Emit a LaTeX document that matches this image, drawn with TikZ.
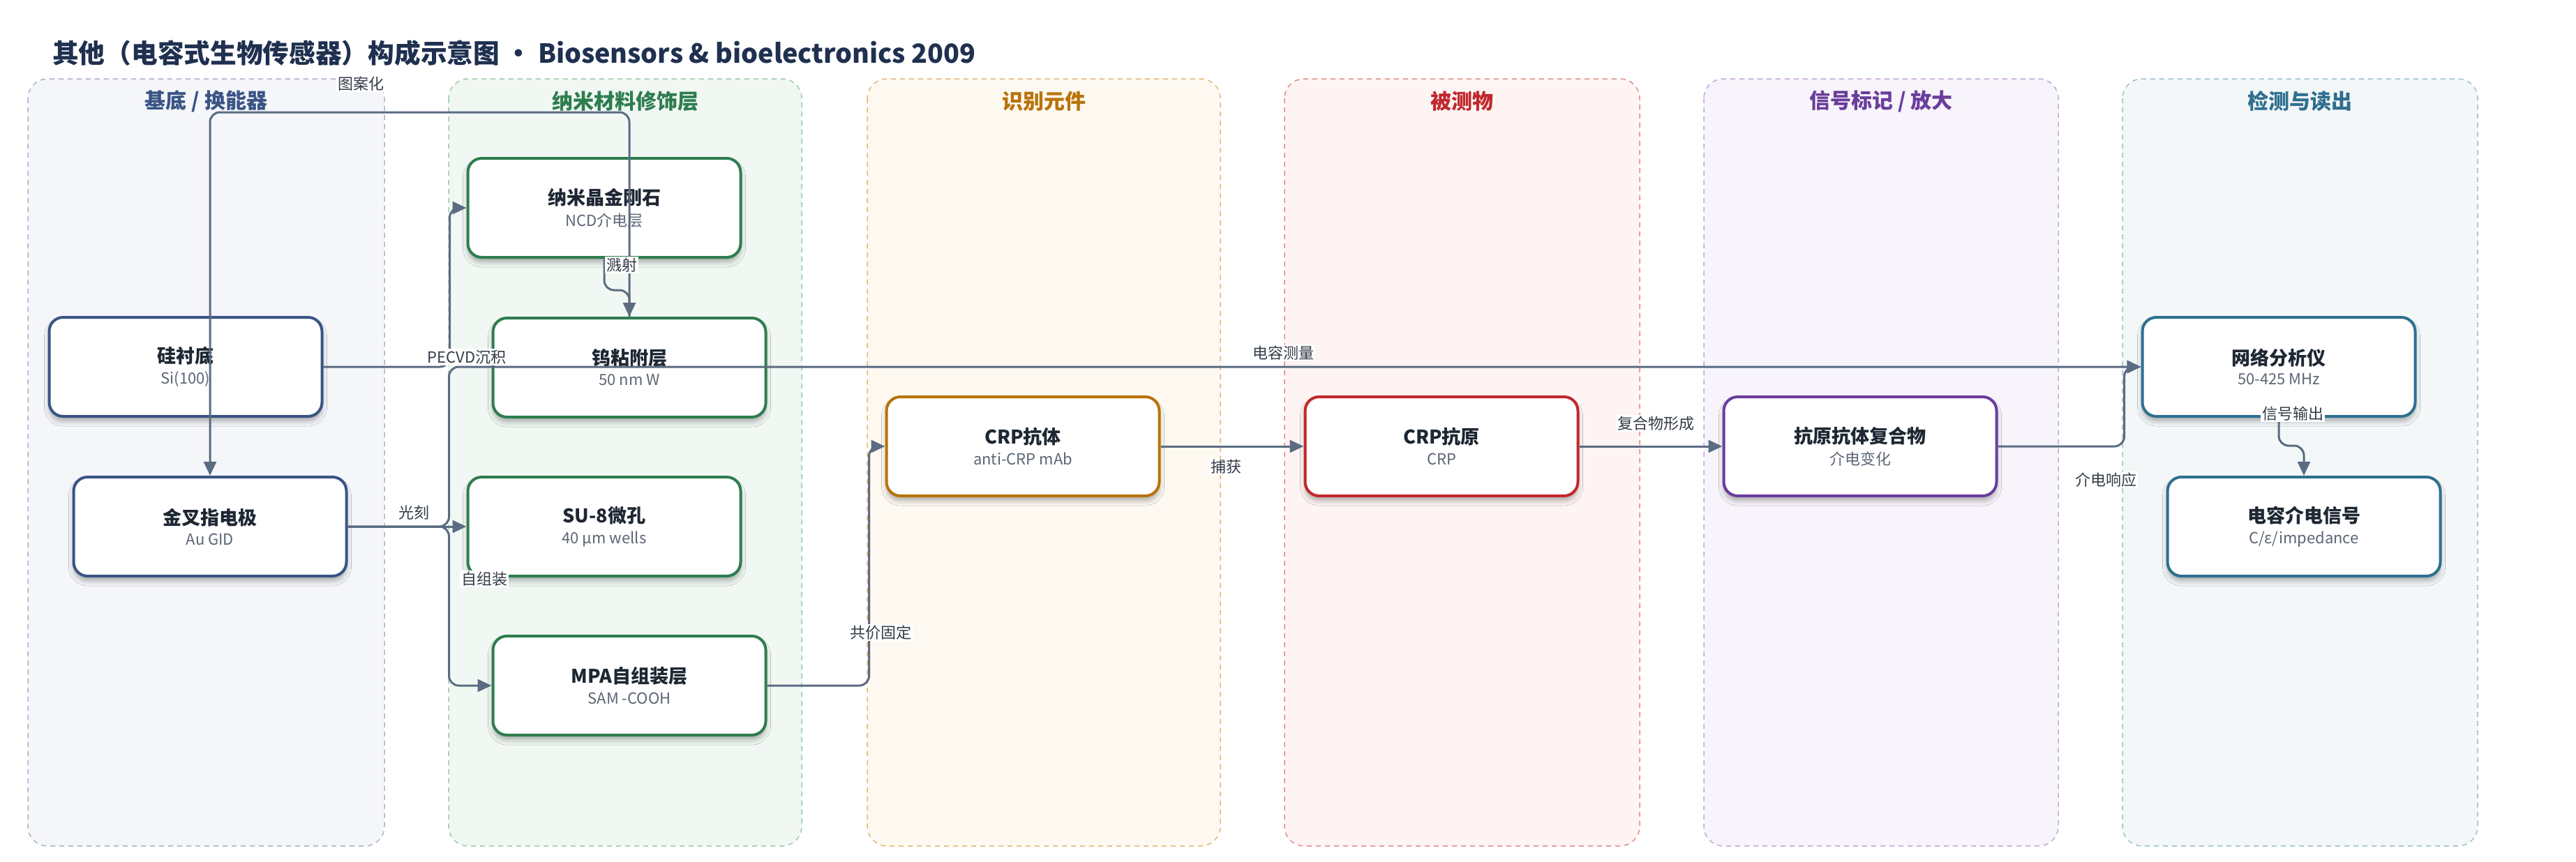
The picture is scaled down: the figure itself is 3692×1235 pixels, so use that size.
\documentclass[tikz,border=0pt]{standalone}
\usepackage{fontspec}
\setmainfont{Noto Sans CJK SC}
\usetikzlibrary{arrows.meta,shadows.blur,calc}
\definecolor{titlec}{HTML}{1F3050}
\definecolor{ttlc}{HTML}{1E2733}
\definecolor{subc}{HTML}{5C6675}
\definecolor{edgec}{HTML}{5B6B82}
\definecolor{lblc}{HTML}{333B47}
% lane colours: header/node, border, fill
\definecolor{cA}{HTML}{3A5584}\definecolor{bA}{HTML}{A9B4C8}\definecolor{fA}{HTML}{F5F6FA}
\definecolor{cB}{HTML}{2E7D4F}\definecolor{bB}{HTML}{9CCAA9}\definecolor{fB}{HTML}{F1F8F3}
\definecolor{cC}{HTML}{B8730A}\definecolor{bC}{HTML}{E3B877}\definecolor{fC}{HTML}{FDF9F1}
\definecolor{cD}{HTML}{C0282D}\definecolor{bD}{HTML}{E08C8C}\definecolor{fD}{HTML}{FDF4F3}
\definecolor{cE}{HTML}{6A3D9A}\definecolor{bE}{HTML}{C2A6DC}\definecolor{fE}{HTML}{F7F4FB}
\definecolor{cF}{HTML}{2F6F8F}\definecolor{bF}{HTML}{9CBFCC}\definecolor{fF}{HTML}{F3F7F8}
\newcommand\nodetitle[1]{{\fontsize{27}{34}\selectfont\bfseries\color{ttlc}#1}}
\newcommand\nodesub[1]{{\fontsize{22}{28}\selectfont\color{subc}#1}}
\tikzset{
  lanebox/.style n args={2}{draw=#1, fill=#2, dash pattern=on 7pt off 6pt, line width=1.5pt, rounded corners=28pt},
  lanehead/.style={font=\fontsize{30}{36}\selectfont\bfseries, text=#1},
  nbox/.style={draw=#1, fill=white, line width=4pt, rounded corners=20pt,
    minimum width=391pt, minimum height=142pt, align=center, inner sep=0pt,
    blur shadow={shadow xshift=0pt, shadow yshift=-7pt, shadow blur radius=7pt, shadow opacity=30}},
  conn/.style={draw=edgec, line width=3pt, rounded corners=14pt, -{Triangle[length=20pt,width=18pt]}},
  lbl/.style={fill=white, inner sep=2pt, font=\fontsize{22}{26}\selectfont, text=lblc},
}
\begin{document}
\begin{tikzpicture}[x=1pt,y=-1pt]
\useasboundingbox[fill=white] (0,0) rectangle (3692,1235);
% title
\node[anchor=west, inner sep=0pt, font=\fontsize{37.7}{44}\selectfont\bfseries, text=titlec] (title) at (75,76)
  {其他（电容式生物传感器）构成示意图 · Biosensors \& bioelectronics 2009};
% lanes
\path[lanebox={bA}{fA}] (40,113) rectangle (551,1213);
\path[lanebox={bB}{fB}] (643,113) rectangle (1149,1213);
\path[lanebox={bC}{fC}] (1243,113) rectangle (1749,1213);
\path[lanebox={bD}{fD}] (1841,113) rectangle (2350,1213);
\path[lanebox={bE}{fE}] (2442,113) rectangle (2950,1213);
\path[lanebox={bF}{fF}] (3042,113) rectangle (3551,1213);
\node[lanehead=cA] (hA) at (295.5,145) {基底 / 换能器};
\node[lanehead=cB] (hB) at (896,145) {纳米材料修饰层};
\node[lanehead=cC] (hC) at (1496,145) {识别元件};
\node[lanehead=cD] (hD) at (2095.5,145) {被测物};
\node[lanehead=cE] (hE) at (2696,145) {信号标记 / 放大};
\node[lanehead=cF] (hF) at (3296.5,145) {检测与读出};
% nodes
\node[nbox=cA] (si)  at (266,526)  {\nodetitle{硅衬底}\\[9pt]\nodesub{Si(100)}};
\node[nbox=cA] (gid) at (301,755)  {\nodetitle{金叉指电极}\\[9pt]\nodesub{Au GID}};
\node[nbox=cB] (ncd) at (866,298)  {\nodetitle{纳米晶金刚石}\\[9pt]\nodesub{NCD介电层}};
\node[nbox=cB] (w)   at (902,527)  {\nodetitle{钨粘附层}\\[9pt]\nodesub{50 nm W}};
\node[nbox=cB] (su8) at (866,755)  {\nodetitle{SU-8微孔}\\[9pt]\nodesub{40 µm wells}};
\node[nbox=cB] (mpa) at (902,983)  {\nodetitle{MPA自组装层}\\[9pt]\nodesub{SAM -COOH}};
\node[nbox=cC] (ab)  at (1466,640) {\nodetitle{CRP抗体}\\[9pt]\nodesub{anti-CRP mAb}};
\node[nbox=cD] (ag)  at (2066,640) {\nodetitle{CRP抗原}\\[9pt]\nodesub{CRP}};
\node[nbox=cE] (cx)  at (2666,640) {\nodetitle{抗原抗体复合物}\\[9pt]\nodesub{介电变化}};
\node[nbox=cF] (na)  at (3266,526) {\nodetitle{网络分析仪}\\[9pt]\nodesub{50-425 MHz}};
\node[nbox=cF] (sig) at (3302,755) {\nodetitle{电容介电信号}\\[9pt]\nodesub{C/ε/impedance}};
% connectors
\draw[conn] (w.north) -- ++(0,-293) -| (gid.north);
\draw[conn] (ncd.south) -- ++(0,45) -| (w.north);
\draw[conn] (si.east) -- ++(181,0) |- (ncd.west);
\draw[conn] (gid.east) -- ++(145,0) |- (na.west);
\draw[conn] (gid.east) -- (su8.west);
\draw[conn] (gid.east) -- ++(145,0) |- (mpa.west);
\draw[conn] (mpa.east) -- ++(146,0) |- (ab.west);
\draw[conn] (ab.east) -- (ag.west);
\draw[conn] (ag.east) -- (cx.west);
\draw[conn] (cx.east) -- ++(181,0) |- (na.west);
\draw[conn] (na.south) -- ++(0,40) -| (sig.north);
% labels
\node[lbl] (l1) at (517,120) {图案化};
\node[lbl] (l2) at (891,380) {溅射};
\node[lbl] (l3) at (669,512) {PECVD沉积};
\node[lbl] (l4) at (593,735) {光刻};
\node[lbl] (l5) at (694,830) {自组装};
\node[lbl] (l6) at (1839,506) {电容测量};
\node[lbl] (l7) at (1262,907) {共价固定};
\node[lbl] (l8) at (1757,669) {捕获};
\node[lbl] (l9) at (2373,607) {复合物形成};
\node[lbl] (l10) at (3018,688) {介电响应};
\node[lbl] (l11) at (3286,593) {信号输出};
\end{tikzpicture}
\end{document}
